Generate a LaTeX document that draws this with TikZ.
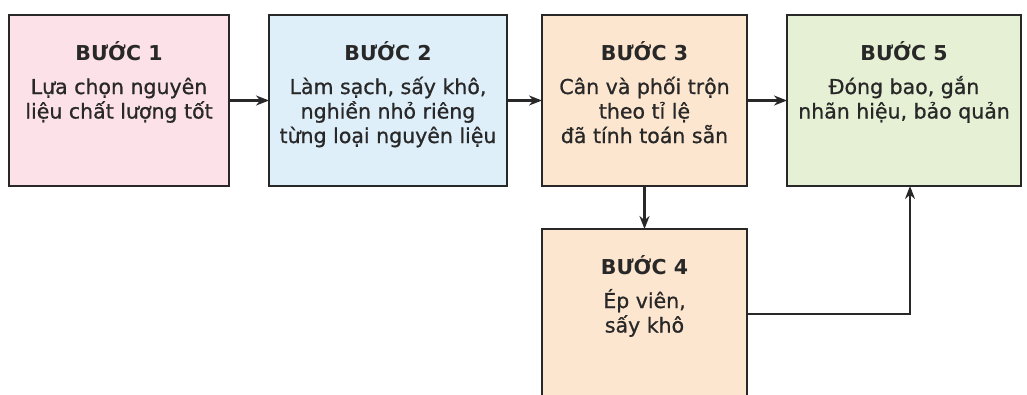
\documentclass[tikz,border=0pt]{standalone}
\usepackage{fontspec}
\setmainfont{DejaVu Sans}[UprightFeatures={FakeBold=0.8}]
\usetikzlibrary{arrows.meta,positioning}
\definecolor{boxpink}{RGB}{252,225,233}
\definecolor{boxblue}{RGB}{222,239,250}
\definecolor{boxpeach}{RGB}{253,230,207}
\definecolor{boxgreen}{RGB}{230,240,212}
\definecolor{inkline}{RGB}{40,40,40}

% text of one step: title on top, description below
\newcommand{\stepcontent}[4]{%
    \parbox[t][#2][t]{#1}{\centering\fontsize{20.5}{24.5}\selectfont
        \rule{0pt}{45pt}\textbf{#3}\\[9.5pt]#4}}

\tikzset{
    stepbox/.style={draw=inkline, line width=2.2pt, inner sep=0pt,
        outer sep=0pt, fill=#1, text=inkline},
    flow/.style={->, draw=inkline, line width=2.2pt},
}

\begin{document}
\begin{tikzpicture}[x=1pt, y=1pt, >={Stealth[length=13pt,width=10pt]}]

    \useasboundingbox (0,0) rectangle (1027,-394);
    \clip (0,0) rectangle (1027,-394);

    % Top row of steps
    \node[stepbox=boxpink, anchor=north west] (buoc1) at (9,-15)
        {\stepcontent{220pt}{171pt}{BƯỚC 1}{Lựa chọn nguyên\\liệu chất lượng tốt}};
    \node[stepbox=boxblue, right=40pt of buoc1] (buoc2)
        {\stepcontent{238pt}{171pt}{BƯỚC 2}{Làm sạch, sấy khô,\\nghiền nhỏ riêng\\từng loại nguyên liệu}};
    \node[stepbox=boxpeach, right=35pt of buoc2] (buoc3)
        {\stepcontent{205pt}{171pt}{BƯỚC 3}{Cân và phối trộn\\theo tỉ lệ\\đã tính toán sẵn}};
    \node[stepbox=boxgreen, right=40pt of buoc3] (buoc5)
        {\stepcontent{234pt}{171pt}{BƯỚC 5}{Đóng bao, gắn\\nhãn hiệu, bảo quản}};

    % Step below
    \node[stepbox=boxpeach, below=43pt of buoc3] (buoc4)
        {\stepcontent{205pt}{170pt}{BƯỚC 4}{Ép viên,\\sấy khô}};

    % Arrows
    \draw[flow] (buoc1) -- (buoc2);
    \draw[flow] (buoc2) -- (buoc3);
    \draw[flow] (buoc3) -- (buoc5);
    \draw[flow] (buoc3) -- (buoc4);
    \draw[flow] (buoc4.east) -| ([xshift=6pt]buoc5.south);

\end{tikzpicture}
\end{document}
